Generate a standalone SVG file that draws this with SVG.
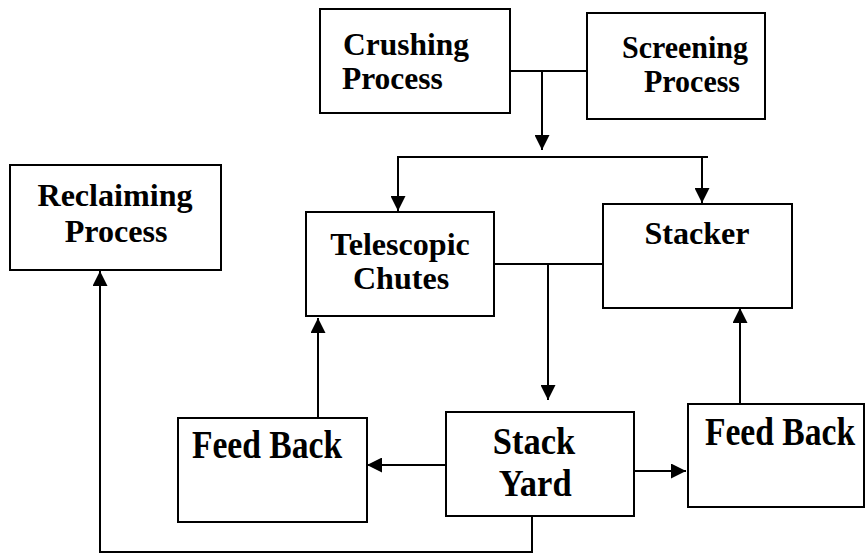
<svg xmlns="http://www.w3.org/2000/svg" width="865" height="553" viewBox="0 0 865 553">
<style>
.box{fill:#fff;stroke:#000;stroke-width:2}
.lbl{font-family:"Liberation Serif","Times New Roman",serif;font-weight:bold;font-size:30px;fill:#000;text-anchor:middle}
.ln{fill:none;stroke:#000;stroke-width:2}
</style>
<defs>
<marker id="ah" viewBox="0 0 10 10" refX="10" refY="5" markerWidth="7.5" markerHeight="7.5" markerUnits="strokeWidth" orient="auto">
<path d="M0,0 L10,5 L0,10 Z" fill="#000"/>
</marker>
</defs>
<rect width="865" height="553" fill="#fff"/>
<g id="connectors">
<path class="ln" d="M510,71 H591"/>
<path class="ln" d="M542,71 V150" marker-end="url(#ah)"/>
<path class="ln" d="M397,157 H708"/>
<path class="ln" d="M398,157 V211" marker-end="url(#ah)"/>
<path class="ln" d="M702,157 V203" marker-end="url(#ah)"/>
<path class="ln" d="M494,264 H604"/>
<path class="ln" d="M548,264 V400" marker-end="url(#ah)"/>
<path class="ln" d="M446,465 H367" marker-end="url(#ah)"/>
<path class="ln" d="M634,471 H686" marker-end="url(#ah)"/>
<path class="ln" d="M318,418 V318" marker-end="url(#ah)"/>
<path class="ln" d="M740,404 V308" marker-end="url(#ah)"/>
<path class="ln" d="M532,516 V552 H100 V271" marker-end="url(#ah)"/>
</g>
<g id="crushing">
<rect class="box" x="320" y="9" width="190" height="104"/>
<text class="lbl" transform="translate(406,55) scale(1.05,1.02)"><tspan x="0" y="0">Crushing</tspan><tspan x="-13" y="33.3">Process</tspan></text>
</g>
<g id="screening">
<rect class="box" x="587" y="13" width="178" height="106"/>
<text class="lbl" transform="translate(685,58) scale(1,1.02)"><tspan x="0" y="0">Screening</tspan><tspan x="7" y="33.3">Process</tspan></text>
</g>
<g id="reclaiming">
<rect class="box" x="10" y="165" width="211" height="105"/>
<text class="lbl" transform="translate(115,206) scale(1.07,1.05)"><tspan x="0" y="0">Reclaiming</tspan><tspan x="1" y="34.3">Process</tspan></text>
</g>
<g id="telescopic">
<rect class="box" x="306" y="212" width="188" height="104"/>
<text class="lbl" transform="translate(400,255) scale(1.07,1.02)"><tspan x="0" y="0">Telescopic</tspan><tspan x="1" y="33.3">Chutes</tspan></text>
</g>
<g id="stacker">
<rect class="box" x="603" y="204" width="189" height="104"/>
<text class="lbl" transform="translate(697,244) scale(1.07,1.05)">Stacker</text>
</g>
<g id="feedback-left">
<rect class="box" x="178" y="418" width="189" height="104"/>
<text class="lbl" transform="translate(267,458) scale(1.12,1.35)">Feed Back</text>
</g>
<g id="stackyard">
<rect class="box" x="446" y="412" width="188" height="104"/>
<text class="lbl" transform="translate(534,454) scale(1.15,1.25)"><tspan x="0" y="0">Stack</tspan><tspan x="1" y="33.6">Yard</tspan></text>
</g>
<g id="feedback-right">
<rect class="box" x="688" y="404" width="176" height="103"/>
<text class="lbl" transform="translate(780,445) scale(1.12,1.35)">Feed Back</text>
</g>
</svg>
